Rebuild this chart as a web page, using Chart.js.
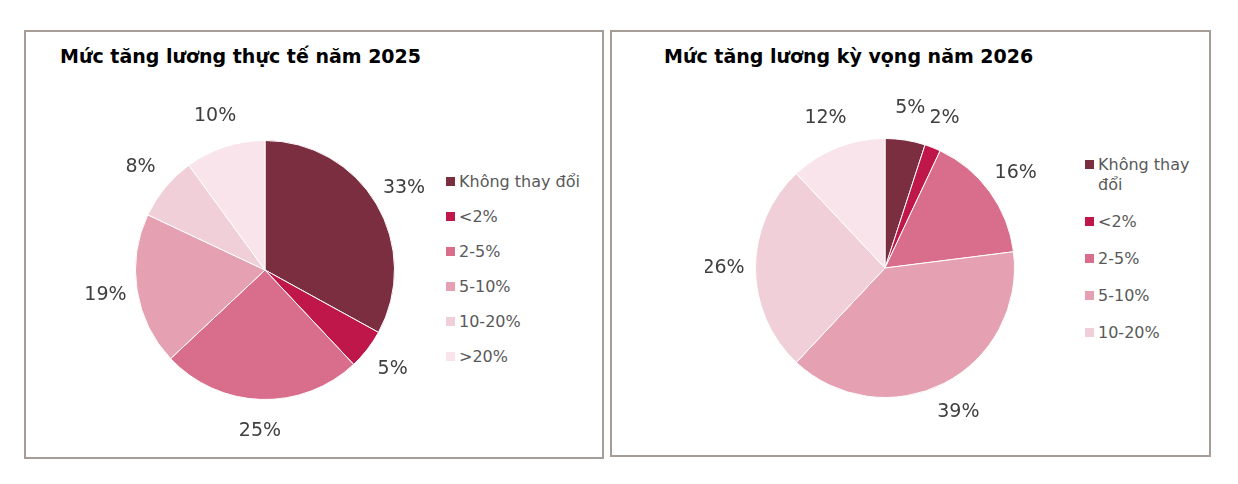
<!DOCTYPE html><html><head><meta charset="utf-8">
<script src="https://cdn.jsdelivr.net/npm/chart.js@4"></script>
<style>
body{margin:0;width:1238px;height:484px;background:#fff;position:relative;font-family:"DejaVu Sans",Verdana,sans-serif;overflow:hidden}
.box{position:absolute;border:2px solid #A59D96;box-sizing:border-box}
.title{position:absolute;font-weight:bold;font-size:19px;color:#000}
canvas{position:absolute}
.leg{position:absolute;font-size:16px;color:#595959}
.leg div{position:relative;padding-left:13px;line-height:20px}
.leg span{position:absolute;left:0;top:5px;width:9px;height:9px}
</style></head><body>
<div class="box" style="left:24px;top:30px;width:580px;height:429px"></div>
<div class="box" style="left:610px;top:30px;width:601px;height:427px"></div>
<div class="title" style="left:60px;top:45px">Mức tăng lương thực tế năm 2025</div>
<div class="title" style="left:664px;top:45px">Mức tăng lương kỳ vọng năm 2026</div>
<div style="position:absolute;left:85px;top:90px;width:360px;height:360px"><canvas id="c1"></canvas></div>
<div style="position:absolute;left:705px;top:88px;width:360px;height:360px"><canvas id="c2"></canvas></div>
<div class="leg" id="l1" style="left:446px;top:172px;width:160px"></div>
<div class="leg" id="l2" style="left:1085px;top:155px;width:112px"></div>
<script>
const categories=["Không thay đổi","<2%","2-5%","5-10%","10-20%",">20%"];
const values2025=[33,5,25,19,8,10];
const values2026=[5,2,16,39,26,12];
const colors=["#7A2E40","#C0174A","#D86E8C","#E5A0B2","#F0CFD9","#F8E4EA"];
const outLabels={id:'out',afterDatasetsDraw(ch){const ctx=ch.ctx;const m=ch.getDatasetMeta(0);ctx.save();ctx.font='19px "DejaVu Sans"';ctx.fillStyle='#404040';ctx.textAlign='center';ctx.textBaseline='middle';
m.data.forEach((a,i)=>{const mid=(a.startAngle+a.endAngle)/2;const r=a.outerRadius+32;ctx.fillText(ch.data.datasets[0].data[i]+'%',a.x+Math.cos(mid)*r,a.y+Math.sin(mid)*r);});ctx.restore();}};
function mk(id,vals){new Chart(document.getElementById(id),{type:'pie',data:{labels:categories,datasets:[{data:vals,backgroundColor:colors,borderColor:'#fff',borderWidth:1}]},
options:{responsive:true,maintainAspectRatio:false,animation:false,layout:{padding:50},plugins:{legend:{display:false},tooltip:{enabled:false}}},plugins:[outLabels]});}
mk('c1',values2025);mk('c2',values2026);
function leg(id,n,gap){const el=document.getElementById(id);categories.slice(0,n).forEach((c,i)=>{const d=document.createElement('div');d.style.marginBottom=gap+'px';d.innerHTML='<span style="background:'+colors[i]+'"></span>'+c.replace(/</g,'&lt;');el.appendChild(d);});}
leg('l1',6,15);leg('l2',5,17);
</script></body></html>
